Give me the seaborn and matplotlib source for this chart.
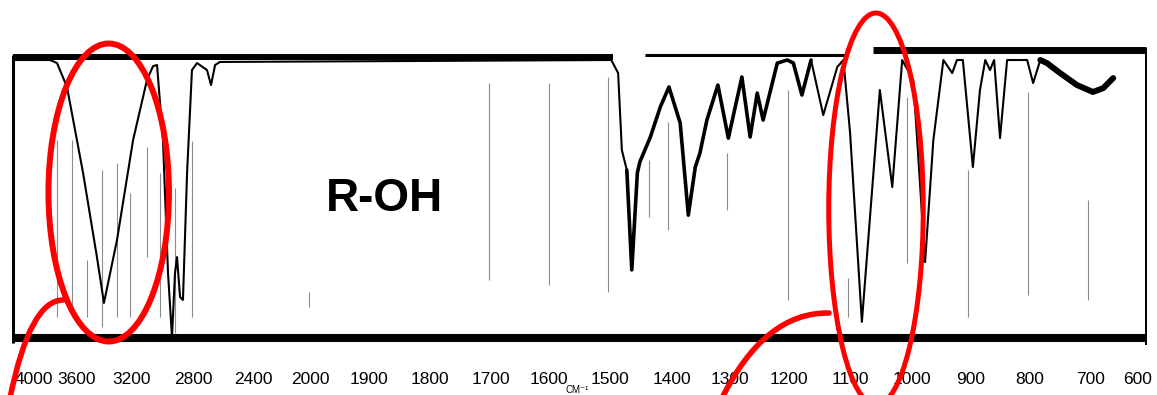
#IR spectrum of an alcohol (R-OH), redrawn from a scanned chart with seaborn

import numpy as np
import pandas as pd
import seaborn as sns
import matplotlib.pyplot as plt
from matplotlib.patches import Ellipse, PathPatch
from matplotlib.path import Path

#chart paper: wavenumber printed on the scan and where it sits (px from the left edge)
paper_wn = np.array([4200, 4000, 3600, 3200, 2800, 2400, 2000, 1900, 1800, 1700, 1600,
                     1500, 1400, 1300, 1200, 1100, 1000, 900, 800, 700, 600, 500])
paper_px = np.array([12, 34, 77, 132, 193, 253, 310, 369, 430, 491, 549,
                     610, 672, 730, 789, 850, 912, 971, 1030, 1090, 1137, 1184])

tick_wn = [4000, 3600, 3200, 2800, 2400, 2000, 1900, 1800, 1700, 1600,
           1500, 1400, 1300, 1200, 1100, 1000, 900, 800, 700, 600]
tick_labels = [str(v) for v in tick_wn]

#spectrum (cm-1, %T)
wavenumber = [4190, 3850, 3786, 3693, 3556, 3455, 3404, 3309, 3193, 3102, 3062, 3036,
              2997, 2964, 2938, 2918, 2905, 2885, 2866, 2839, 2807, 2773, 2707, 2680,
              2653, 2620, 1498, 1487, 1481, 1473, 1465, 1456, 1452, 1435, 1419, 1405,
              1386, 1372, 1360, 1352, 1340, 1321, 1303, 1280, 1266, 1254, 1244, 1220,
              1203, 1193, 1179, 1164, 1144, 1121, 1111, 1100, 1081, 1052, 1032, 1016,
              998, 978, 964, 947, 932, 924, 914, 897, 885, 876, 868, 861, 851, 839,
              805, 795, 783, 772, 750, 722, 694, 672, 651]
transmittance = [100, 100, 98.9, 90.3, 59.4, 29.1, 12.6, 35.3, 71.2, 92.8, 97.8, 98.2,
                 71.2, 23.4, 0.4, 23.4, 29.1, 14.7, 13.7, 59.4, 96.4, 98.9, 96.4, 91.0,
                 98.2, 99.3, 100, 95.3, 67.6, 60.4, 24.5, 59.4, 63.3, 72.3, 83.1, 90.3,
                 77.3, 44.2, 61.5, 66.5, 78.4, 91.0, 71.9, 93.9, 72.3, 88.1, 78.4, 98.9,
                 100, 98.9, 87.4, 100, 80.2, 97.5, 100, 73.7, 5.8, 89.2, 54.3, 100,
                 92.8, 27.3, 71.2, 100, 95.3, 100, 100, 61.5, 89.2, 100, 96.4, 100, 71.9, 100,
                 100, 91.7, 100, 98.9, 95.3, 91.0, 88.5, 89.9, 93.5]

#faint vertical streaks of the scan (cm-1, %T from, %T to)
streak_wn = [3786, 3647, 3527, 3418, 3309, 3215, 3102, 3016, 2918, 2807, 2007,
             1703, 1600, 1503, 1437, 1406, 1305, 1202, 1103, 1008, 905, 803, 703]
streak_lo = [7.6, 7.6, 7.6, 4.0, 7.6, 7.6, 29.1, 7.6, 1.8, 7.6, 11.2,
             20.9, 19.1, 16.5, 43.5, 38.8, 46.0, 13.7, 7.6, 27.0, 7.6, 15.5, 13.7]
streak_hi = [71.2, 71.2, 28.1, 60.4, 63.0, 52.0, 68.7, 59.4, 54.0, 71.0, 16.5,
             91.7, 91.7, 93.9, 64.0, 77.7, 66.5, 89.2, 21.6, 86.7, 60.4, 88.5, 49.6]

spec = pd.DataFrame({"wn": wavenumber, "T": transmittance})

sns.set_style("white")
plt.rcParams["font.family"] = ["Liberation Sans Narrow", "Liberation Sans", "DejaVu Sans"]

W, H = 1157, 395
fig = plt.figure(figsize=(W / 100, H / 100), dpi=100)
ax = fig.add_axes([12 / W, (H - 346) / H, (1147 - 12) / W, (346 - 44) / H])

#pen was heavier in some stretches of the trace
sns.lineplot(data=spec, x="wn", y="T", sort=False, estimator=None,
             color="black", lw=1.5, ax=ax)
for hi, lo, w in [(1480, 1150, 2.6), (790, 640, 4.3)]:
    part = spec[(spec.wn <= hi) & (spec.wn >= lo)]
    sns.lineplot(data=part, x="wn", y="T", sort=False, estimator=None,
                 color="black", lw=w, ax=ax)

ax.vlines(streak_wn, streak_lo, streak_hi, color="0.55", lw=0.8, zorder=0)

#paper frame of the scan
ax.hlines(101.0, 4191, 1495, color="black", lw=4.3)
ax.hlines(101.8, 1443, 1108, color="black", lw=2.2)
ax.hlines(103.6, 1063, 581, color="black", lw=5.0)
ax.hlines(0, 4191, 581, color="black", lw=5.8)
ax.vlines(4191, -1.8, 101.8, color="black", lw=2.2)
ax.vlines(581, -2.5, 104.3, color="black", lw=1.4)

def fwd(w):
    return -np.interp(w, paper_wn[::-1], paper_px[::-1])

def inv(t):
    return np.interp(-np.asarray(t), paper_px, paper_wn)

ax.set_xscale("function", functions=(fwd, inv))
ax.set_xlim(4200, 579)
ax.set_ylim(-2.88, 105.76)
ax.set_xticks(tick_wn)
ax.set_xticklabels(tick_labels, fontsize=12.5, color="black")
ax.tick_params(axis="x", length=0, pad=19)
ax.set_yticks([])
ax.set_xlabel("")
ax.set_ylabel("")
for s in ax.spines.values():
    s.set_visible(False)
ax.text(1554, -0.145, "CM\u207b\u00b9", transform=ax.get_xaxis_transform(),
        ha="center", va="center", fontsize=7, color="black",
        family=["Liberation Sans", "DejaVu Sans"])

#red markup on top of the scan
over = fig.add_axes([0, 0, 1, 1], zorder=5)
over.set_xlim(0, W)
over.set_ylim(H, 0)
over.axis("off")
over.patch.set_alpha(0)

over.add_patch(Ellipse((108.7, 192.5), 120.5, 298, fill=False, ec="red", lw=4.3))
over.add_patch(Ellipse((876, 209), 94.5, 392, fill=False, ec="red", lw=3.6))
for pts in [[(10, 398), (30, 300), (63, 300)], [(722, 398), (765, 312), (829, 313)]]:
    p = Path(pts, [Path.MOVETO, Path.CURVE3, Path.CURVE3])
    over.add_patch(PathPatch(p, fill=False, ec="red", lw=4.0, capstyle="round"))

over.text(384, 199, "R-OH", ha="center", va="center", fontsize=33,
          fontweight="bold", color="black", family=["Liberation Sans", "DejaVu Sans"])

fig.savefig("out.png", dpi=100)
